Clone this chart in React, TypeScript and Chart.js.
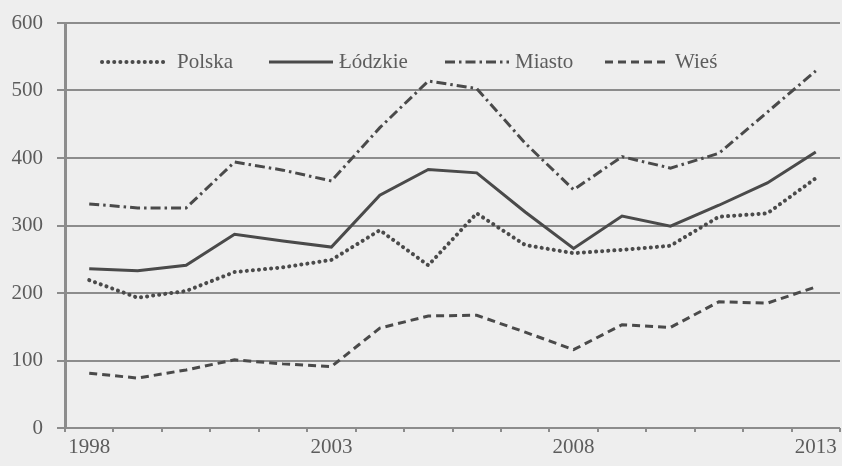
import React, { useEffect, useRef } from "react";
import { Chart, registerables } from "chart.js";

Chart.register(...registerables);

const years = ["1998", "1999", "2000", "2001", "2002", "2003", "2004", "2005", "2006", "2007", "2008", "2009", "2010", "2011", "2012", "2013"];
const shownYears = ["1998", "2003", "2008", "2013"];
const yTicks = [0, 100, 200, 300, 400, 500, 600];

const polska = [219, 193, 203, 231, 238, 249, 293, 241, 318, 271, 259, 264, 270, 313, 318, 370];
const lodzkie = [236, 233, 241, 287, 277, 268, 345, 383, 378, 320, 266, 314, 299, 330, 363, 409];
const miasto = [332, 326, 326, 394, 382, 366, 445, 514, 503, 422, 353, 402, 385, 407, 468, 529];
const wies = [81, 74, 86, 101, 95, 91, 148, 166, 167, 142, 116, 153, 149, 187, 185, 209];

const FONT = "'Liberation Serif', 'DejaVu Serif', serif";
const TEXT = "#5c5c5c";
const LINE = "#4a4a4a";
const GRID = "#8c8c8c";

const legendX = [102, 269, 445, 605];

const insideLegend = {
  id: "insideLegend",
  afterDatasetsDraw(chart: any) {
    const ctx = chart.ctx;
    const y = 62;
    ctx.save();
    chart.data.datasets.forEach((ds: any, i: number) => {
      const x0 = legendX[i];
      ctx.beginPath();
      ctx.strokeStyle = ds.borderColor;
      ctx.lineWidth = ds.borderWidth;
      ctx.lineCap = ds.borderCapStyle || "butt";
      ctx.setLineDash(ds.borderDash || []);
      ctx.moveTo(x0, y);
      ctx.lineTo(x0 + 64, y);
      ctx.stroke();
      ctx.setLineDash([]);
      ctx.fillStyle = TEXT;
      ctx.font = "21px " + FONT;
      ctx.textBaseline = "middle";
      ctx.textAlign = "left";
      ctx.fillText(ds.label, x0 + (i === 0 ? 75 : 70), y);
    });
    ctx.restore();
  },
};

export default function App() {
  const ref = useRef<HTMLCanvasElement | null>(null);
  useEffect(() => {
    document.body.style.margin = "0";
    document.body.style.background = "#eeeeee";
    if (!ref.current) return;
    const chart = new Chart(ref.current, {
      type: "line",
      data: {
        labels: years,
        datasets: [
          { label: "Polska", data: polska, borderColor: LINE, borderWidth: 4, borderDash: [0.1, 6], borderCapStyle: "round" },
          { label: "Łódzkie", data: lodzkie, borderColor: LINE, borderWidth: 3 },
          { label: "Miasto", data: miasto, borderColor: LINE, borderWidth: 3, borderDash: [10, 4, 2.5, 4] },
          { label: "Wieś", data: wies, borderColor: LINE, borderWidth: 3, borderDash: [8, 5] },
        ] as any,
      },
      options: {
        animation: false,
        responsive: false,
        maintainAspectRatio: false,
        layout: { padding: { left: 11, right: 2, top: 23, bottom: 6 } },
        elements: { point: { radius: 0 }, line: { tension: 0 } },
        plugins: { legend: { display: false }, tooltip: { enabled: false } },
        scales: {
          x: {
            type: "category",
            offset: true,
            afterFit: (s: any) => { s.height = 32; s.paddingLeft = 0; s.paddingRight = 0; },
            grid: { offset: true, drawOnChartArea: false, drawTicks: true, tickLength: 4, color: GRID, lineWidth: 2 },
            border: { display: false },
            ticks: {
              autoSkip: false,
              maxRotation: 0,
              padding: 3,
              color: TEXT,
              font: { family: FONT, size: 21 },
              callback: (_v: any, i: number) => (shownYears.includes(years[i]) ? years[i] : ""),
            },
          },
          y: {
            min: 0,
            max: 600,
            afterFit: (s: any) => { s.width = 54; s.paddingTop = 0; s.paddingBottom = 0; },
            afterBuildTicks: (s: any) => { s.ticks = yTicks.map((v) => ({ value: v })); },
            grid: { color: GRID, lineWidth: 2, tickLength: 8 },
            border: { display: true, color: GRID, width: 3 },
            ticks: { padding: 14, color: TEXT, font: { family: FONT, size: 21 } },
          },
        },
      },
      plugins: [insideLegend],
    });
    return () => chart.destroy();
  }, []);
  return (
    <div style={{ width: 842, height: 466, background: "#eeeeee" }}>
      <canvas ref={ref} width={842} height={466} style={{ display: "block", width: 842, height: 466 }} />
    </div>
  );
}
